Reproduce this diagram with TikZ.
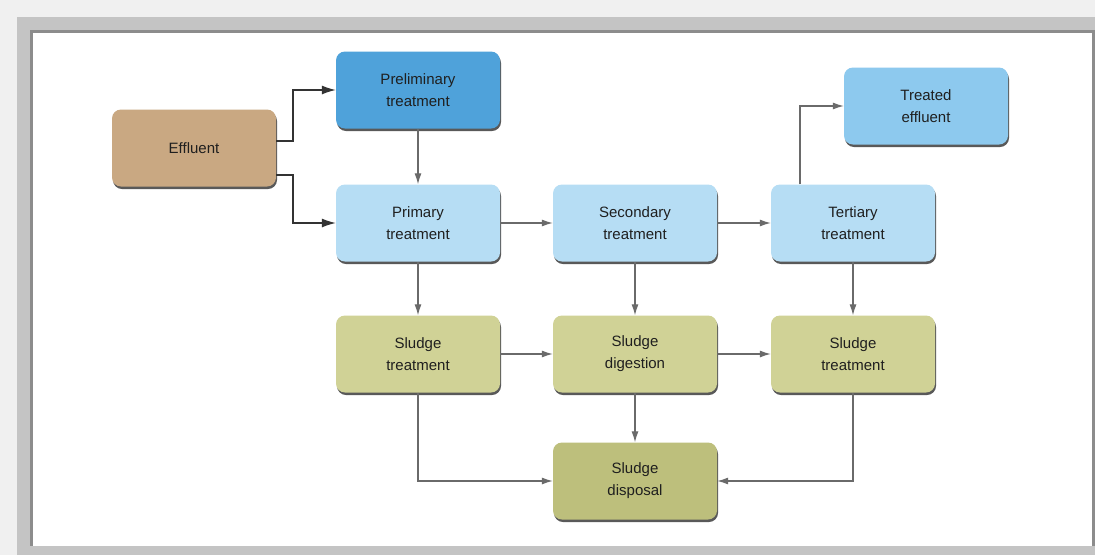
\documentclass[tikz,border=0pt]{standalone}
\usepackage{fontspec}
\setmainfont{Liberation Sans}
\usepackage{xcolor}
\definecolor{tan}{HTML}{C9A882}
\definecolor{deepblue}{HTML}{4FA2DA}
\definecolor{midblue}{HTML}{8DC9EE}
\definecolor{paleblue}{HTML}{B6DDF4}
\definecolor{paleolive}{HTML}{D0D296}
\definecolor{olive}{HTML}{BDBF7C}
\definecolor{linegray}{HTML}{6A6A6A}
\usetikzlibrary{arrows.meta,shadows,positioning}
\tikzset{
    x=1pt,y=-1pt,
    box/.style ={rectangle, rounded corners=9pt, minimum width=164pt, minimum height=77pt,
        align=center, font=\fontsize{15}{22}\selectfont, text=black!88,
        drop shadow={shadow xshift=1pt, shadow yshift=-2.5pt, fill=black!65, opacity=1}},
    flow/.style = {-{Latex[length=11pt,width=7pt]}, linegray, line width=1.1pt},
    feed/.style = {-{Latex[length=14pt,width=9pt]}, black!80, line width=1.1pt}
}

\begin{document}
\begin{tikzpicture}
      % frame
      \fill[black!6] (0,0) rectangle (1095,555);
      \fill[black!23] (17,17) rectangle (1095,555);
      \fill[black!45] (30,30) rectangle (1095,546);
      \fill[white] (33,33) rectangle (1092,546);
      \useasboundingbox (0,0) rectangle (1095,555);

      \node[box, fill=tan] (effluent) at (194,148) {Effluent};
      \node[box, fill=deepblue] (prelim) at (418,90) {Preliminary\\treatment};
      \node[box, fill=paleblue] (primary) at (418,223) {Primary\\treatment};
      \node[box, fill=paleblue] (secondary) at (635,223) {Secondary\\treatment};
      \node[box, fill=paleblue] (tertiary) at (853,223) {Tertiary\\treatment};
      \node[box, fill=midblue] (treated) at (926,106) {Treated\\effluent};
      \node[box, fill=paleolive] (sludgeA) at (418,354) {Sludge\\treatment};
      \node[box, fill=paleolive] (digest) at (635,354) {Sludge\\digestion};
      \node[box, fill=paleolive] (sludgeB) at (853,354) {Sludge\\treatment};
      \node[box, fill=olive] (disposal) at (635,481) {Sludge\\disposal};

      \coordinate (splitA) at (293,141);
      \coordinate (splitB) at (293,175);
      \draw[feed] (effluent.east |- splitA) -- (splitA) |- (prelim.west);
      \draw[feed] (effluent.east |- splitB) -- (splitB) |- (primary.west);

      \draw[flow] (prelim) -- (primary);
      \draw[flow] (primary) -- (secondary);
      \draw[flow] (secondary) -- (tertiary);
      \coordinate (up) at (800,0);
      \draw[flow] (tertiary.north -| up) |- (treated.west);

      \draw[flow] (primary) -- (sludgeA);
      \draw[flow] (secondary) -- (digest);
      \draw[flow] (tertiary) -- (sludgeB);
      \draw[flow] (sludgeA) -- (digest);
      \draw[flow] (digest) -- (sludgeB);
      \draw[flow] (digest) -- (disposal);
      \draw[flow] (sludgeA.south) |- (disposal.west);
      \draw[flow] (sludgeB.south) |- (disposal.east);
\end{tikzpicture}
\end{document}
